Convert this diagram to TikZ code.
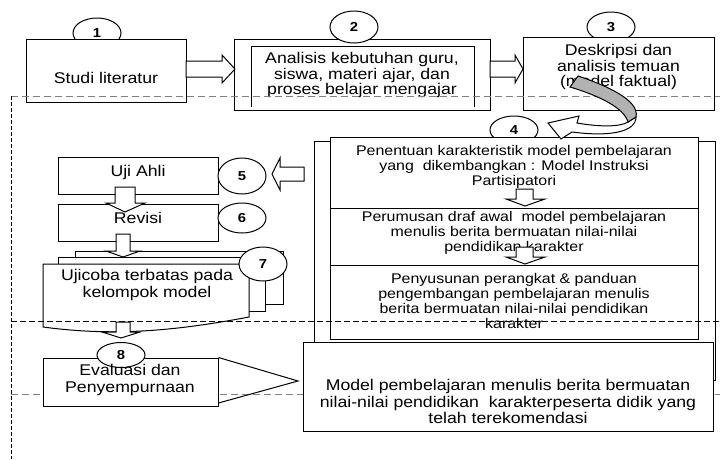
\documentclass[tikz,border=0pt]{standalone}
\usepackage{fontspec}
\setmainfont[FakeStretch=1.14]{Liberation Sans}
\usetikzlibrary{shapes.geometric}

\tikzset{
  box/.style={draw, fill=white, line width=1pt, inner sep=0pt},
  txt/.style={align=center, inner sep=0pt, font=\fontsize{15.5pt}{13.5pt}\selectfont},
  txtfour/.style={align=center, inner sep=0pt, font=\fontsize{14pt}{15pt}\selectfont},
  num/.style={draw, ellipse, fill=white, line width=1pt, inner sep=0pt, minimum width=48pt,
    font=\fontsize{13pt}{13pt}\selectfont\bfseries},
  blockarrow/.style={draw, fill=white, line width=1pt, line join=miter},
  graydash/.style={gray, line width=0.9pt, dash pattern=on 7pt off 4pt},
  blackdash/.style={black, line width=0.8pt, dash pattern=on 6pt off 3pt},
}

\begin{document}
\begin{tikzpicture}[x=1pt, y=-1pt]
\useasboundingbox (0,0) rectangle (720,459);

% Step 1
\node[num, minimum height=30pt] (n1) at (97,33) {1};
\node[box, minimum width=160pt, minimum height=63pt] (b1) at (106,70.5) {};
\node[txt] (t1) at (106,78) {Studi literatur};

% Step 2
\node[box, minimum width=256pt, minimum height=71pt] (b2) at (362,74.5) {};
\draw[line width=1pt] (251,107) -- (251,46) -- (474,46) -- (474,107);
\node[txt] (t2) at (362,75) {Analisis kebutuhan guru,\\ siswa, materi ajar, dan\\ proses belajar mengajar};
\node[num, minimum height=32pt] (n2) at (354,27) {2};

% Step 3
\node[num, minimum height=30pt] (n3) at (611,27) {3};
\node[box, minimum width=191pt, minimum height=73pt] (b3) at (618.5,73.5) {};
\node[txt, font=\fontsize{15.5pt}{15.5pt}\selectfont] (t3) at (618.5,67) {Deskripsi dan\\ analisis temuan\\ (model faktual)};

% Arrows 1-2, 2-3
\draw[blockarrow] (186,61) -- (222,61) -- (222,55) -- (235,69) -- (222,83) -- (222,77) -- (186,77) -- cycle;
\draw[blockarrow] (490,61) -- (515,61) -- (515,55) -- (523,69) -- (515,83) -- (515,77) -- (490,77) -- cycle;

% Dashed frame
\draw[graydash] (11,96) -- (720,96);
\draw[black, line width=0.8pt, dash pattern=on 4pt off 2pt] (11,96) -- (11,459);

% Step 4
\draw[box] (314,141) rectangle (715,380);
\node[num, minimum height=28pt] (n4) at (514,130) {4};
\node[box, minimum width=368pt, minimum height=71pt] (b4a) at (514,172.5) {};
\node[box, minimum width=368pt, minimum height=57pt] (b4b) at (514,236.5) {};
\node[box, minimum width=368pt, minimum height=74pt] (b4c) at (514,302) {};
\node[txtfour] (t4a) at (514,167) {Penentuan karakteristik model pembelajaran\\ yang\ \ dikembangkan : Model Instruksi\\ Partisipatori};
\node[txtfour] (t4b) at (514,233) {Perumusan draf awal\ \ model pembelajaran\\ menulis berita bermuatan nilai-nilai\\ pendidikan karakter};
\node[txtfour] (t4c) at (514,300.5) {Penyusunan perangkat \& panduan\\ pengembangan pembelajaran menulis\\ berita bermuatan nilai-nilai pendidikan\\ karakter};
\foreach \y in {189,247} {
  \draw[blockarrow] (516,\y) -- (533,\y) -- (533,\y+10) -- (545,\y+10) -- (525,\y+17) -- (506,\y+10) -- (516,\y+10) -- cycle;
}

% Curved arrow 3-4
\draw[line width=1pt, fill=white, line join=miter] (636,117) .. controls (636,132) and (610,137) .. (572,132)
  -- (561,139) -- (548,123) -- (579,116) -- (577,123)
  .. controls (600,127) and (620,127) .. (628,122) -- cycle;
\draw[line width=1pt, fill=black!30] (578,76) .. controls (605,85) and (640,100) .. (636,117)
  -- (628,122) .. controls (624,108) and (600,96) .. (570,87) -- cycle;

% Steps 5, 6
\draw[blockarrow] (304,167) -- (280,167) -- (280,158) -- (272,174) -- (280,190) -- (280,181) -- (304,181) -- cycle;
\node[box, minimum width=160pt, minimum height=37pt] (b5) at (138,175.5) {};
\node[txt] (t5) at (138,172) {Uji Ahli};
\node[num, minimum height=36pt] (n5) at (242,176) {5};
\node[box, minimum width=160pt, minimum height=37pt] (b6) at (138,222.5) {};
\node[txt] (t6) at (138,218) {Revisi};
\node[num, minimum height=30pt] (n6) at (242,218) {6};
\draw[blockarrow] (115,187) -- (135,187) -- (135,203) -- (145,203) -- (125,212) -- (106,203) -- (115,203) -- cycle;

% Step 7
\draw[box] (75,251) rectangle (283,304);
\draw[box] (58,257) rectangle (265,311);
\draw[box] (43,264) -- (249,264) -- (249,317) .. controls (170,332) and (110,336) .. (43,327) -- cycle;
\node[txt, font=\fontsize{15.5pt}{16.5pt}\selectfont] (t7) at (147,285) {Ujicoba terbatas pada\\ kelompok model};
\node[num, minimum height=34pt] (n7) at (263,264) {7};
\draw[blockarrow] (116,234) -- (130,234) -- (130,251) -- (140,251) -- (123,257) -- (106,251) -- (116,251) -- cycle;

\draw[blackdash] (11,321) -- (720,321);
\draw[graydash] (11,394) -- (720,394);

% Step 8
\draw[blockarrow] (116,322) -- (130,322) -- (130,332) -- (140,332) -- (121,338) -- (102,332) -- (116,332) -- cycle;
\node[box, minimum width=175pt, minimum height=48pt] (b8) at (130.5,382) {};
\node[num, minimum height=25pt] (n8) at (121,355) {8};
\node[txt, font=\fontsize{15.5pt}{17.5pt}\selectfont] (t8) at (130,380) {Evaluasi dan\\ Penyempurnaan};
\draw[line width=1pt] (b8.north east) -- (298,381) -- (b8.east |- 0,403);

% Result
\node[box, minimum width=410pt, minimum height=89pt] (bm) at (508,386.5) {};
\node[txt, font=\fontsize{15.5pt}{16.5pt}\selectfont] (tm) at (508,401.5) {Model pembelajaran menulis berita bermuatan\\ nilai-nilai pendidikan\ \ karakterpeserta didik yang\\ telah terekomendasi};
\end{tikzpicture}
\end{document}
